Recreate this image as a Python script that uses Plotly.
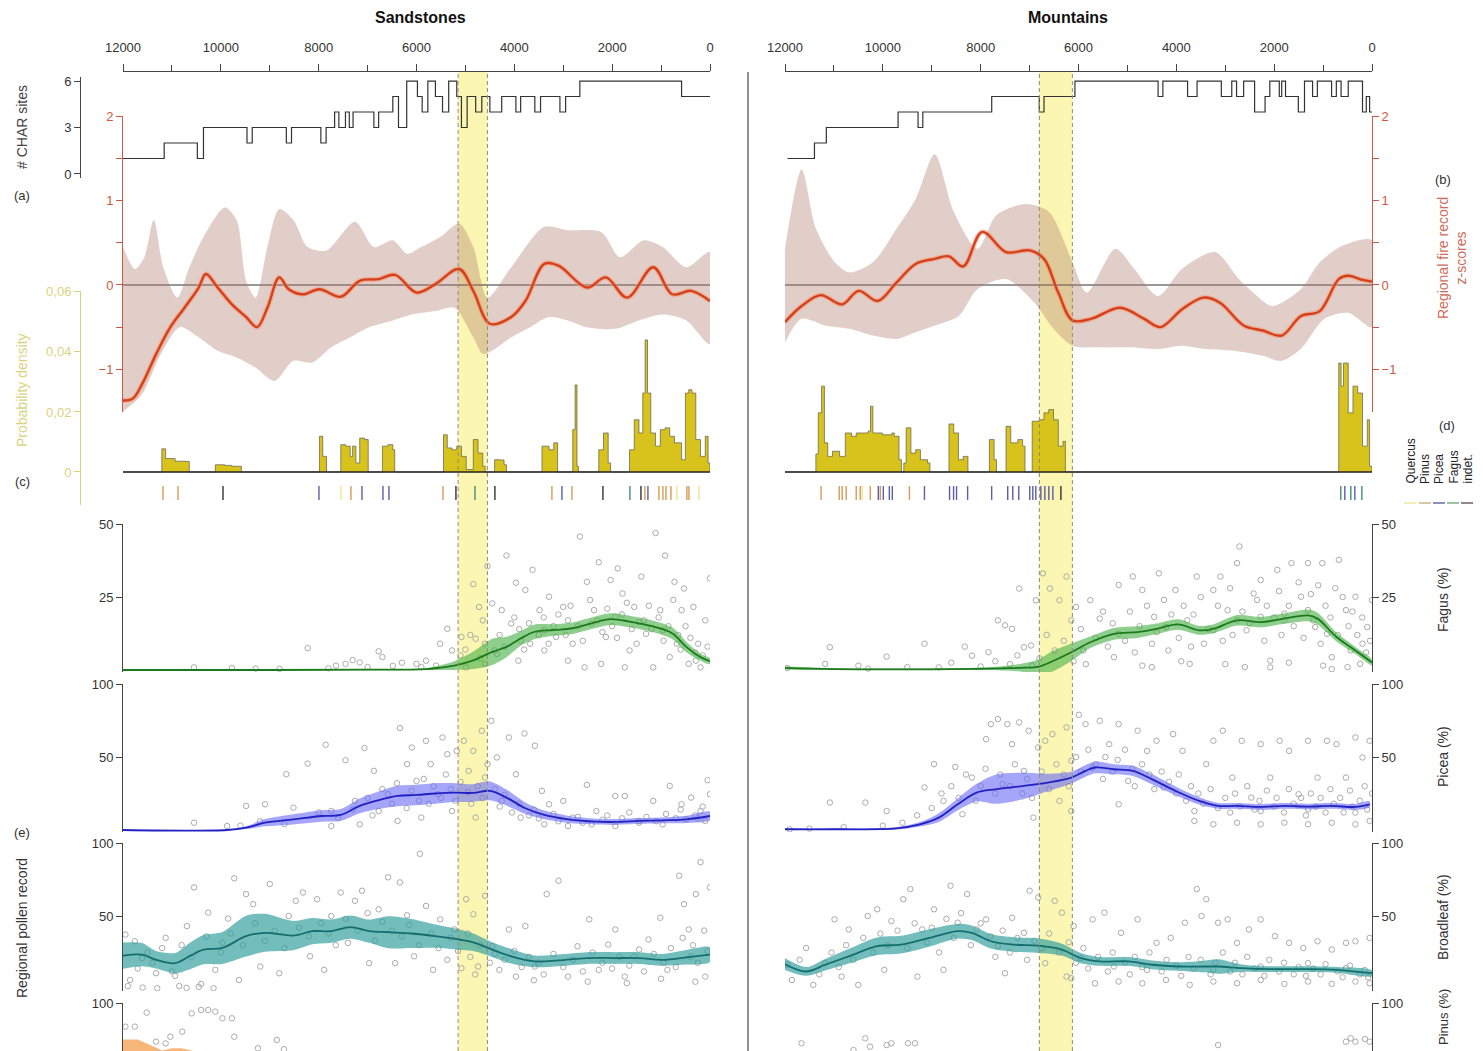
import plotly.graph_objects as go

W, H = 1483, 1051
FONT = "Liberation Sans, Arial, Helvetica, sans-serif"
RED = "#cc5a44"
OLIVE = "#d9d37e"


def px(x):
    return x / W


def py(y):
    return 1 - y / H


def ydom(top, bottom):
    return [1 - bottom / H, 1 - top / H]


def split(pairs):
    return [p[0] for p in pairs], [p[1] for p in pairs]


# ---------------- data (ages in cal yr BP) ----------------
time_ticks = [12000, 10000, 8000, 6000, 4000, 2000, 0]
time_minor = [11000, 9000, 7000, 5000, 3000, 1000]
event_sand = (5150, 4550)
event_mount = (6800, 6125)

# number of CHAR sites (step starts)
sand_sites_t = [12000, 11158, 10480, 10355, 9465, 9358, 8661, 8555, 7955, 7848, 7674, 7587, 7452, 7374,
                7297, 6871, 6774, 6484, 6368, 6200, 5981, 5884, 5768, 5613, 5468, 5342, 5177, 5081, 4965,
                4790, 4665, 4500, 4258, 3968, 3871, 3581, 3464, 3068, 2952, 2661, 581, 0]
sand_sites_n = [1, 2, 1, 3, 2, 3, 2, 3, 2, 3, 4, 3, 4, 3, 4, 3, 4, 5, 3, 6, 5, 4, 6, 5, 4, 6, 5, 3, 5, 4,
                5, 4, 5, 4, 5, 4, 5, 4, 5, 6, 5, 5]
mount_sites_t = [11950, 11398, 11155, 9688, 9280, 9183, 7774, 6802, 6705, 6073, 4373, 4275, 3770, 3576,
                 3080, 2867, 2769, 2624, 2400, 2186, 2089, 1895, 1846, 1768, 1506, 1380, 1215, 1117, 826,
                 729, 632, 486, 194, 117, 49, 0]
mount_sites_n = [1, 2, 3, 4, 3, 4, 5, 4, 5, 6, 5, 6, 5, 6, 5, 6, 5, 6, 4, 5, 6, 5, 6, 5, 4, 6, 5, 6, 5, 6,
                 5, 6, 4, 5, 4, 4]

# regional fire record (z-scores): mean and confidence band
sand_z_t = [12000, 11806, 11613, 11323, 11032, 10742, 10452, 10306, 10065, 9774, 9484, 9261, 9048, 8806,
            8613, 8323, 7984, 7548, 7161, 6774, 6436, 6000, 5613, 5129, 4839, 4500, 4064, 3774, 3387,
            3097, 2516, 2129, 1693, 1161, 774, 387, 0]
sand_z = [-1.37, -1.35, -1.18, -0.82, -0.50, -0.27, -0.03, 0.13, -0.03, -0.23, -0.38, -0.50, -0.27, 0.09,
          -0.05, -0.11, -0.05, -0.14, 0.05, 0.07, 0.12, -0.09, 0.01, 0.19, -0.07, -0.46, -0.38, -0.19, 0.25,
          0.23, -0.03, 0.09, -0.15, 0.21, -0.11, -0.07, -0.19]
sand_zhi_t = [12000, 11758, 11565, 11371, 11177, 10887, 10645, 10355, 9919, 9677, 9484, 9290, 9048, 8806,
              8516, 8226, 7839, 7258, 6871, 6484, 6193, 5903, 5516, 5129, 4839, 4548, 4064, 3387, 2903,
              2226, 1839, 1355, 968, 484, 0]
sand_zhi = [0.45, 0.19, 0.33, 0.77, 0.21, -0.15, 0.21, 0.57, 0.92, 0.77, 0.05, -0.15, 0.45, 0.90, 0.77,
            0.45, 0.41, 0.75, 0.45, 0.53, 0.37, 0.45, 0.57, 0.73, 0.45, -0.15, 0.21, 0.69, 0.65, 0.63,
            0.33, 0.53, 0.45, 0.21, 0.39]
sand_zlo_t = [12000, 11613, 11226, 10839, 10452, 10065, 9677, 9290, 8903, 8516, 8129, 7742, 7355, 6968,
              6484, 6097, 5613, 5226, 4839, 4645, 4452, 4064, 3677, 3290, 2903, 2516, 1935, 1452, 968,
              484, 0]
sand_zlo = [-1.50, -1.30, -0.82, -0.50, -0.62, -0.78, -0.86, -0.98, -1.14, -0.90, -0.92, -0.74, -0.62,
            -0.50, -0.42, -0.35, -0.31, -0.27, -0.62, -0.82, -0.78, -0.62, -0.50, -0.38, -0.42, -0.50,
            -0.52, -0.42, -0.35, -0.42, -0.70]

mount_z_t = [12000, 11660, 11272, 10835, 10495, 10106, 9718, 9329, 8940, 8649, 8357, 7968, 7482, 6996,
             6705, 6414, 6122, 5734, 5151, 4665, 4324, 3887, 3449, 3109, 2624, 2235, 1846, 1457, 1069,
             680, 486, 194, 0]
mount_z = [-0.44, -0.25, -0.12, -0.23, -0.07, -0.19, 0.03, 0.25, 0.31, 0.34, 0.22, 0.63, 0.39, 0.41, 0.31,
           -0.09, -0.42, -0.40, -0.27, -0.40, -0.50, -0.29, -0.15, -0.21, -0.48, -0.54, -0.60, -0.37, -0.31,
           0.07, 0.11, 0.06, 0.04]
mount_zhi_t = [12000, 11660, 11369, 10980, 10689, 10203, 9717, 9328, 8940, 8551, 8065, 7676, 7093, 6608,
               6122, 5830, 5247, 4859, 4373, 3887, 3207, 2721, 2429, 2041, 1458, 1069, 583, 0]
mount_zhi = [0.43, 1.37, 0.67, 0.27, 0.15, 0.27, 0.67, 1.02, 1.55, 0.87, 0.43, 0.83, 0.96, 0.87, 0.27,
             -0.09, 0.43, 0.19, -0.13, 0.19, 0.39, 0.07, -0.09, -0.25, -0.05, 0.27, 0.47, 0.53]
mount_zlo_t = [12000, 11660, 11175, 10689, 10203, 9717, 9328, 8940, 8454, 8065, 7482, 6899, 6510, 6122,
               5539, 4956, 4373, 3887, 3401, 2818, 2235, 1846, 1458, 972, 486, 0]
mount_zlo = [-0.68, -0.40, -0.48, -0.52, -0.60, -0.64, -0.56, -0.48, -0.37, -0.05, 0.07, -0.21, -0.52,
             -0.72, -0.74, -0.74, -0.76, -0.72, -0.76, -0.78, -0.84, -0.90, -0.76, -0.40, -0.33, -0.50]

# summed probability density of dated macro-charcoal
sand_pd = [(12000, 0), (11274, 0), (11206, 0.0077), (11129, 0.0045), (10935, 0.0036), (10722, 0.0035),
           (10645, 0), (10210, 0), (10113, 0.0024), (9919, 0.0022), (9774, 0.0019), (9581, 0),
           (8081, 0), (7984, 0.0119), (7916, 0.0052), (7839, 0), (7626, 0), (7548, 0.0091),
           (7452, 0.0086), (7355, 0.0052), (7306, 0.0086), (7239, 0.003), (7161, 0.0113),
           (7064, 0.0108), (6987, 0), (6774, 0), (6697, 0.0086), (6581, 0.0091), (6484, 0.0074),
           (6445, 0), (5516, 0), (5448, 0.0124), (5371, 0.008), (5274, 0.0074), (5177, 0.0086),
           (5081, 0.0052), (4984, 0.0008), (4839, 0.0108), (4742, 0.0063), (4645, 0.0019), (4597, 0),
           (4471, 0), (4403, 0.0041), (4306, 0.004), (4210, 0.0024), (4161, 0), (3503, 0),
           (3435, 0.0086), (3290, 0.0074), (3194, 0.0097), (3116, 0), (2855, 0), (2806, 0.0141),
           (2758, 0.029), (2719, 0.0019), (2690, 0), (2342, 0), (2274, 0.0074), (2177, 0.013),
           (2081, 0.003), (2032, 0), (1742, 0), (1645, 0.0074), (1548, 0.0174), (1452, 0.013),
           (1374, 0.0263), (1326, 0.044), (1277, 0.0263), (1210, 0.013), (1113, 0.0086), (1016, 0.0141),
           (919, 0.0147), (823, 0.0119), (726, 0.0097), (581, 0.0041), (503, 0.0263), (435, 0.0274),
           (368, 0.0263), (290, 0.0108), (194, 0.0052), (97, 0.0119), (39, 0.003), (0, 0)]
mount_pd = [(12000, 0), (11418, 0), (11369, 0.006), (11320, 0.0197), (11252, 0.0286), (11194, 0.0097),
            (11126, 0.0052), (11029, 0.0069), (10883, 0.0052), (10767, 0.013), (10640, 0.0119),
            (10543, 0.013), (10397, 0.013), (10300, 0.0136), (10252, 0.0219), (10203, 0.013),
            (10009, 0.0124), (9815, 0.013), (9766, 0.0119), (9669, 0.0041), (9620, 0), (9571, 0.003),
            (9523, 0.0147), (9426, 0.0063), (9328, 0.0074), (9231, 0.0041), (9086, 0.003), (9037, 0),
            (8746, 0), (8648, 0.016), (8551, 0.013), (8454, 0.0041), (8357, 0.0052), (8260, 0),
            (7919, 0), (7822, 0.0108), (7725, 0.0041), (7676, 0), (7531, 0), (7482, 0.0152),
            (7385, 0.0097), (7239, 0.0108), (7142, 0.0086), (7093, 0), (6996, 0), (6947, 0.0169),
            (6802, 0.0174), (6705, 0.0197), (6608, 0.0208), (6511, 0.0174), (6413, 0.0086),
            (6316, 0.0102), (6268, 0), (729, 0), (680, 0.0363), (632, 0.0286), (583, 0.0363),
            (486, 0.0197), (389, 0.0286), (292, 0.0263), (194, 0.0086), (97, 0.0174), (49, 0.0019),
            (0, 0)]

# dated charcoal taxa
sand_taxa = [(11182, "Pinus"), (10875, "Pinus"), (9956, "indet."), (7994, "Picea"), (7544, "Quercus"),
             (7340, "Pinus"), (7115, "Picea"), (6686, "Picea"), (6563, "Picea"), (5459, "Pinus"),
             (5194, "indet."), (4805, "Fagus"), (4397, "indet."), (3232, "Pinus"), (3027, "Picea"),
             (2823, "Pinus"), (2189, "indet."), (1637, "Fagus"), (1412, "indet."), (1330, "Pinus"),
             (1269, "Picea"), (1044, "Pinus"), (962, "Pinus"), (901, "Pinus"), (799, "Pinus"),
             (676, "Quercus"), (472, "Pinus"), (431, "Pinus"), (227, "Quercus")]
mount_taxa = [(11262, "Pinus"), (10892, "Pinus"), (10831, "Pinus"), (10749, "Pinus"), (10544, "Pinus"),
              (10462, "Pinus"), (10421, "Quercus"), (10257, "Pinus"), (10093, "Picea"), (10052, "Pinus"),
              (9990, "Picea"), (9867, "Picea"), (9806, "Picea"), (9457, "Pinus"), (9149, "Picea"),
              (8636, "Picea"), (8554, "Picea"), (8493, "Picea"), (8267, "Picea"), (7775, "Picea"),
              (7447, "Picea"), (7344, "Picea"), (7221, "Picea"), (6996, "Picea"), (6934, "Picea"),
              (6873, "Picea"), (6770, "Picea"), (6688, "Picea"), (6606, "Picea"), (6524, "Picea"),
              (6360, "indet."), (638, "Fagus"), (556, "Picea"), (433, "Fagus"), (351, "Picea"),
              (207, "Fagus")]
taxa_names = ["Quercus", "Pinus", "Picea", "Fagus", "indet."]
taxa_colors = {"Quercus": "#ece79a", "Pinus": "#d99a55", "Picea": "#5c5ca8", "Fagus": "#3f8f7a",
               "indet.": "#333333"}
legend_dash_colors = {"Quercus": "#efeaa8", "Pinus": "#cbbd8c", "Picea": "#7272a4", "Fagus": "#86b886",
                      "indet.": "#6e6e6e"}

# regional pollen: smoothed mean with half-width of the band
sand_fagus_curve = [(12000, 0, 0.2), (9000, 0, 0.2), (7000, 0.1, 0.2), (5806, 0.3, 0.3), (5516, 0.8, 0.8),
                    (5226, 1.5, 1.5), (4839, 3.3, 3), (4452, 6.2, 4.5), (4161, 7.9, 3.5), (3871, 10.8, 2.5),
                    (3581, 13.1, 2.5), (3194, 13.7, 2), (2806, 14.3, 2), (2419, 16, 2), (2032, 17.4, 2),
                    (1645, 16.6, 2), (1161, 14.9, 2), (774, 12.6, 2), (484, 7.9, 1.8), (194, 4.4, 1.2),
                    (0, 3, 1)]
sand_picea_curve = [(12000, 0, 0.2), (9871, 0, 0.3), (9484, 1.6, 1), (9097, 5, 2.5), (8516, 7.3, 3.5),
                    (7935, 9.6, 4), (7548, 10.3, 4), (7161, 16.5, 5), (6774, 20.4, 6), (6387, 23.3, 7),
                    (6000, 24, 7), (5613, 25, 7), (5226, 25.6, 6.5), (4839, 25.4, 6), (4500, 26.8, 6.5),
                    (4161, 22.2, 5.5), (3774, 14.9, 4), (3387, 10.3, 3), (2903, 7.3, 2.5), (2323, 5.7, 2),
                    (1935, 5.5, 2), (1452, 6.2, 2), (968, 6.6, 2), (484, 7.3, 2.5), (0, 9.6, 3)]
sand_broad_curve = [(12000, 22.8, 9), (11613, 23.5, 8), (11323, 20, 6), (10935, 17.7, 7), (10645, 22.4, 9),
                    (10355, 27, 10), (9968, 28.1, 11), (9484, 36.2, 14), (9097, 38.5, 13), (8516, 36.6, 10),
                    (8129, 39.6, 9), (7742, 39.6, 8), (7355, 42.4, 8), (6968, 39.6, 8), (6580, 38.9, 11),
                    (6097, 38, 10), (5613, 36.2, 8), (5129, 33.9, 7), (4839, 32, 6), (4452, 27, 5),
                    (4064, 22.4, 5), (3581, 18.9, 4), (3097, 19.6, 4), (2516, 21.2, 4), (1935, 21.2, 4),
                    (1452, 21.2, 4), (968, 20, 4), (484, 21.7, 5), (0, 23.5, 5)]
mount_fagus_curve = [(12000, 0.7, 0.6), (10987, 0.3, 0.3), (8083, 0.4, 0.4), (7502, 0.6, 0.8),
                     (7115, 0.8, 1.5), (6824, 1.1, 2.5), (6534, 3, 3.5), (6147, 6.1, 3), (5760, 9.5, 2),
                     (5276, 12.4, 2), (4792, 13, 2), (4404, 14.1, 1.8), (3969, 15.6, 1.8),
                     (3533, 13.6, 1.5), (3243, 14.1, 1.5), (2759, 17, 1.8), (2275, 16.4, 1.8),
                     (1791, 17.6, 1.8), (1307, 18.7, 2), (1113, 17.6, 2), (726, 11.3, 1.5),
                     (339, 6.7, 1.2), (0, 2.6, 1)]
mount_picea_curve = [(12000, 0.5, 0.5), (10987, 0.5, 0.5), (9728, 1.1, 0.8), (9244, 3.9, 1.5),
                     (8857, 8.5, 3), (8470, 17.6, 4), (8083, 25.6, 6), (7696, 27.9, 10), (7115, 30.2, 9),
                     (6631, 32.5, 6), (6147, 35.9, 4), (5856, 40.5, 4), (5663, 42.8, 4), (5276, 41.6, 3.5),
                     (4888, 40.5, 3.5), (4501, 34.8, 3.5), (4017, 26.8, 3), (3533, 19.9, 2.5),
                     (3146, 16.5, 2), (2759, 16.5, 2), (2275, 15.8, 2), (1791, 16.5, 2), (1307, 16, 2),
                     (823, 16.5, 2), (339, 15.8, 2), (48, 17.6, 2)]
mount_broad_curve = [(12000, 17, 4), (11568, 12, 3), (11180, 16.6, 4), (10697, 22.4, 5), (10116, 29.3, 6),
                     (9632, 30.4, 6), (9051, 35, 6), (8470, 39.6, 5), (8180, 38.5, 5), (7793, 32.7, 5),
                     (7309, 30.4, 5), (6825, 29.7, 5), (6341, 27, 4), (5953, 21.2, 3.5), (5566, 18.9, 3),
                     (4985, 18.9, 3), (4501, 16.6, 3), (3921, 15.4, 3), (3437, 15.4, 4), (3146, 15.4, 5),
                     (2662, 14.3, 2.5), (2081, 13.6, 2), (1307, 13.6, 2), (726, 13.1, 2), (0, 10.8, 2)]
sand_pinus_band = [(12000, 60, 75), (11700, 58, 75), (11400, 52, 70.5), (11200, 50, 67.5), (11000, 48, 69),
                   (10800, 48, 69), (10600, 46, 67.5), (10400, 44, 65)]

# individual pollen samples (age, %)
sand_fagus_pts = [
    (10548, 0.9), (9774, 0.7), (9290, 0.5), (8225, 7.5), (7645, 1.5), (7451, 2.1), (7306, 3.4), (7161, 2.6),
    (6774, 6.4), (6697, 4.4), (6484, 1.4), (6000, 2.1), (5806, 3.2), (5516, 9.0), (5371, 14.1), (5274, 6.7),
    (5081, 11.3), (4984, 0.9), (4839, 29.4), (4790, 10.7), (4722, 21.6), (4645, 17), (4597, 2.1),
    (4548, 35.6), (4452, 22.8), (4403, 6.7), (4258, 20.5), (4161, 39.2), (4064, 15.9), (3968, 29.9),
    (3919, 3.2), (3774, 27.4), (3677, 9.0), (3629, 34.3), (3484, 20.5), (3387, 6.7), (3290, 25.1),
    (3145, 11.3), (3000, 21.6), (2903, 3.2), (2806, 9.0), (2661, 45.7), (2516, 30.2), (2371, 20.5),
    (2274, 36.9), (2226, 2.1), (2129, 11.3), (2032, 30.8), (1887, 34.8), (1790, 26.2), (1645, 6.7),
    (1548, 21.6), (1403, 32), (1306, 12.4), (1113, 46.9), (1016, 20.5), (919, 39.2), (823, 4.4), (726, 30.2),
    (581, 20.5), (532, 27.9), (435, 2.1), (339, 21.6), (242, 9), (97, 17), (0, 31.4), (3387, 13.6),
    (2903, 17), (2419, 15.9), (1935, 18.2), (1452, 16.4), (968, 13.6), (677, 9), (290, 3.2), (194, 0.9),
    (3871, 10.1), (4355, 5.5), (2564, 0.9), (1742, 0.9), (1161, 0.9), (4300, 12), (4200, 8), (4000, 18),
    (3900, 14), (3800, 7), (3700, 16), (3500, 12), (3400, 18), (3300, 9), (3200, 15), (3100, 19),
    (2950, 12), (2850, 22), (2700, 15), (2600, 10), (2450, 24), (2300, 17), (2200, 13), (2100, 21),
    (2000, 15), (1900, 11), (1800, 19), (1700, 23), (1600, 14), (1500, 9), (1350, 17), (1250, 22),
    (1200, 14), (1050, 18), (950, 10), (850, 15), (750, 24), (650, 12), (600, 7), (500, 15), (400, 11),
    (300, 6), (150, 5), (50, 8), (5100, 5), (5000, 7), (4900, 12), (4700, 4), (4600, 9), (5600, 1.5),
    (5900, 1), (6300, 2.5), (7000, 1), (7800, 0.6), (8800, 0.4)]
sand_picea_pts = [
    (10548, 5.0), (9871, 2.7), (9484, 16.5), (9097, 17.6), (8661, 38.2), (8516, 15.3), (8226, 45.5),
    (7858, 58.4), (7742, 13), (7451, 47.8), (7258, 19.9), (7064, 56.1), (6871, 40.5), (6774, 13),
    (6581, 24.5), (6339, 69.8), (6193, 45.1), (6097, 56.5), (6000, 33.6), (5903, 8.5), (5806, 61.1),
    (5710, 45.1), (5565, 24.5), (5468, 63.4), (5371, 51.9), (5274, 13), (5177, 54.2), (5032, 61.1),
    (4935, 40.5), (4839, 54.2), (4790, 8.5), (4664, 68), (4548, 45.1), (4471, 74.8), (4355, 49.7),
    (4258, 19.9), (4113, 63.4), (3968, 38.2), (3793, 66.1), (3581, 57.7), (3435, 26.8), (3290, 17.6),
    (3000, 19.9), (2806, 8.5), (2516, 30.9), (2323, 13), (1935, 23.3), (1742, 23.3), (1452, 5),
    (1161, 19.9), (823, 30.2), (581, 17.6), (387, 22.2), (194, 13), (48, 34.1), (0, 24.5), (3871, 8.5),
    (3387, 3.9), (2903, 2.7), (2419, 3.9), (1935, 2.7), (1452, 6.2), (968, 3.9), (484, 7.3), (97, 6.2),
    (6387, 6.2), (7161, 3.9), (7742, 2.7), (8000, 12), (7600, 8), (7300, 14), (7000, 22), (6900, 10),
    (6700, 28), (6500, 18), (6400, 32), (6200, 15), (6100, 27), (5950, 20), (5850, 35), (5750, 18),
    (5650, 30), (5500, 22), (5400, 38), (5300, 28), (5200, 20), (5100, 33), (4950, 26), (4880, 18),
    (4750, 30), (4650, 22), (4600, 36), (4400, 28), (4300, 16), (4200, 24), (4050, 12), (3900, 18),
    (3700, 10), (3600, 14), (3500, 8), (3200, 11), (3100, 6), (2700, 9), (2600, 5), (2200, 7), (2100, 10),
    (1800, 8), (1650, 12), (1300, 9), (1100, 6), (900, 11), (700, 8), (600, 14), (300, 10), (150, 16),
    (250, 8), (8700, 4), (9200, 6), (9600, 3)]
sand_broad_pts = [
    (11951, 37.3), (11855, 6.2), (11758, 32.7), (11613, 21.2), (11323, 10.8), (11129, 35), (10935, 9),
    (10693, 43.1), (10548, 69.6), (10403, 3.5), (10258, 52.3), (10113, 13.1), (9968, 31.6), (9851, 48.2),
    (9726, 75.8), (9629, 6.2), (9484, 65), (9339, 58.1), (9193, 15.4), (9000, 71.9), (8806, 10.8),
    (8613, 50), (8468, 60.4), (8323, 66.1), (8177, 22.4), (8032, 61.5), (7887, 13.1), (7742, 50),
    (7548, 66.1), (7403, 31.6), (7258, 60.4), (7113, 67.3), (6968, 17.7), (6774, 54.6), (6580, 76.5),
    (6436, 17.7), (6339, 73), (6193, 50.5), (6048, 22.4), (5932, 92.6), (5806, 56.9), (5661, 13.1),
    (5516, 47.7), (5371, 20), (5226, 40.8), (5081, 14.3), (4984, 61.5), (4839, 51.2), (4742, 15.4),
    (4597, 63.8), (4452, 29.3), (4306, 13.1), (4113, 40.8), (3968, 8.5), (3774, 43.1), (3581, 15.4),
    (3339, 65), (3097, 74.2), (2903, 8.5), (2710, 29.3), (2468, 47.7), (2274, 13.1), (2081, 30.4),
    (1935, 40.8), (1742, 8.5), (1548, 22.4), (1258, 33.9), (1016, 48.8), (871, 13.1), (629, 77.6),
    (532, 58.1), (435, 40.8), (290, 65), (194, 86.9), (97, 8.5), (0, 69.6), (11900, 2), (11700, 14),
    (11500, 25), (11400, 18), (11200, 28), (11000, 12), (10800, 30), (10600, 22), (10300, 36), (10000, 25),
    (9800, 38), (9550, 30), (9300, 45), (9100, 33), (8900, 40), (8700, 28), (8400, 42), (8200, 36),
    (7950, 45), (7800, 38), (7650, 30), (7450, 48), (7200, 40), (7000, 52), (6850, 33), (6700, 46),
    (6500, 40), (6300, 36), (6150, 44), (5950, 30), (5700, 38), (5550, 28), (5300, 35), (5150, 26),
    (4950, 38), (4900, 22), (4700, 30), (4500, 18), (4400, 24), (4200, 20), (4000, 26), (3850, 15),
    (3700, 22), (3500, 18), (3400, 10), (3200, 24), (3000, 15), (2800, 20), (2600, 12), (2400, 25),
    (2200, 18), (2000, 14), (1850, 22), (1650, 16), (1450, 27), (1350, 12), (1150, 24), (950, 18),
    (800, 28), (700, 15), (560, 35), (400, 22), (350, 30), (250, 18), (120, 40), (50, 26), (4800, 10),
    (3600, 6), (2500, 5), (1700, 4), (1000, 7), (300, 5), (11600, 1), (11300, 0.5), (10850, 2),
    (10700, 0.8), (10450, 1.5), (10150, 0.5)]
mount_fagus_pts = [
    (11954, 0.7), (11180, 2.1), (11083, 7.8), (9922, 4.6), (9148, 9), (8857, 0.9), (8325, 8), (8180, 4.9),
    (7841, 6.1), (7648, 17), (7502, 15.3), (7357, 14.1), (7212, 27.9), (7115, 7.8), (6970, 8.4),
    (6873, 23.9), (6728, 33.1), (6583, 27.9), (6486, 6.7), (6389, 23.9), (6244, 32), (6147, 17),
    (6050, 21.6), (5905, 6.7), (5759, 23.9), (5566, 17.6), (5276, 4.4), (5179, 29.1), (4889, 32),
    (4695, 27.4), (4453, 18.2), (4356, 33.1), (4163, 6.7), (4018, 27.4), (3776, 17), (3582, 32),
    (3436, 9), (3243, 27.4), (3098, 32), (2952, 20.5), (2759, 36.6), (2710, 42.3), (2565, 13.6),
    (2420, 26.2), (2275, 30.8), (2081, 3.2), (1936, 34.3), (1791, 19.3), (1646, 36.6), (1452, 25.1),
    (1307, 36.6), (1162, 14.7), (1016, 36.6), (823, 4.4), (678, 37.7), (532, 20.5), (339, 25.1), (194, 9),
    (97, 14.7), (0, 23.9), (5179, 12.4), (4211, 14.7), (3243, 13.6), (2759, 17), (2275, 18.2), (1791, 17),
    (1307, 20.5), (920, 12.4), (436, 6.7), (242, 2.1), (3727, 2.1), (4695, 1.5), (2081, 0.9), (823, 0.3),
    (10500, 1.5), (10300, 0.5), (9500, 1), (8600, 2.5), (8000, 1.2), (7700, 3), (7400, 2), (7250, 5),
    (6950, 1.5), (6800, 4), (6650, 12), (6300, 10), (6100, 3), (5950, 14), (5850, 2), (5650, 11),
    (5500, 20), (5400, 8), (5300, 16), (5050, 10), (4950, 20), (4850, 6), (4750, 15), (4600, 22), (4500, 9),
    (4400, 13), (4250, 24), (4100, 19), (3950, 11), (3850, 22), (3700, 8), (3650, 19), (3500, 25),
    (3350, 14), (3150, 22), (3050, 10), (2900, 28), (2850, 12), (2650, 20), (2500, 16), (2350, 24),
    (2200, 10), (2150, 22), (2000, 18), (1900, 27), (1850, 12), (1700, 22), (1600, 15), (1500, 30),
    (1400, 11), (1250, 26), (1200, 17), (1100, 29), (1050, 9), (950, 22), (850, 18), (750, 28), (700, 12),
    (600, 25), (480, 15), (400, 20), (300, 12), (200, 18), (120, 6), (40, 10), (3000, 2), (2600, 1),
    (1700, 2.5), (1000, 1.5), (500, 1), (3900, 3), (4500, 1)]
mount_picea_pts = [
    (11906, 0.5), (11083, 18.8), (10357, 18.8), (9922, 13), (9148, 29.1), (8954, 45.1), (8760, 19.9),
    (8518, 43.2), (8373, 10.8), (8180, 35.9), (7890, 62.2), (7793, 72.5), (7648, 76), (7551, 31.4),
    (7454, 72.5), (7357, 58.8), (7212, 73.7), (7115, 40.5), (7018, 68), (6921, 8.5), (6825, 56.5),
    (6680, 61.1), (6534, 65.7), (6389, 19.9), (6244, 70.3), (6147, 47.4), (5992, 78.9), (5856, 72.5),
    (5711, 42.8), (5566, 74.8), (5372, 58.8), (5179, 72.5), (4985, 33.6), (4792, 68), (4598, 54.2),
    (4405, 61.1), (4260, 29.1), (4066, 65.7), (3873, 54.2), (3631, 13), (3389, 45.1), (3243, 61.1),
    (3050, 68), (2856, 35.9), (2662, 61.1), (2468, 22.2), (2275, 58.8), (2081, 35.9), (1888, 61.1),
    (1694, 54.2), (1501, 24.5), (1307, 61.1), (1113, 35.9), (920, 61.1), (726, 58.8), (532, 35.9),
    (339, 63.4), (194, 49.7), (48, 61.1), (3631, 6.2), (3243, 3.9), (2759, 5), (2275, 3.9), (1791, 5),
    (1307, 3.9), (823, 5), (339, 3.9), (48, 6.2), (2275, 13), (1307, 14.2), (339, 11.9), (5179, 17.6),
    (6147, 13), (11500, 1), (10800, 2), (10000, 3), (9600, 5), (9300, 10), (9000, 15), (8800, 25),
    (8600, 30), (8450, 22), (8300, 38), (8100, 20), (8000, 30), (7900, 42), (7700, 25), (7600, 38),
    (7400, 30), (7300, 45), (7150, 25), (7050, 35), (6950, 22), (6750, 40), (6600, 28), (6450, 45),
    (6300, 38), (6200, 30), (6050, 50), (5950, 40), (5800, 55), (5650, 45), (5500, 35), (5450, 50),
    (5300, 40), (5200, 48), (5050, 55), (4900, 42), (4850, 30), (4700, 45), (4550, 38), (4450, 28),
    (4300, 40), (4150, 33), (4000, 25), (3950, 38), (3800, 20), (3700, 30), (3550, 25), (3450, 18),
    (3300, 28), (3150, 15), (3000, 22), (2900, 12), (2800, 25), (2700, 16), (2550, 30), (2400, 14),
    (2300, 20), (2150, 27), (2000, 16), (1950, 22), (1800, 12), (1700, 28), (1600, 18), (1450, 22),
    (1350, 10), (1250, 25), (1150, 16), (1050, 22), (950, 12), (850, 28), (780, 18), (650, 22), (580, 12),
    (450, 27), (400, 16), (250, 20), (150, 30), (100, 14), (0, 25)]
mount_broad_pts = [
    (11954, 16.6), (11858, 6.2), (11568, 28.1), (11422, 2.8), (11180, 17.7), (10987, 47.7), (10842, 8.5),
    (10697, 40.8), (10503, 2.8), (10310, 50), (10116, 54.6), (9970, 13.1), (9825, 46.5), (9583, 61.5),
    (9438, 68.4), (9293, 8.5), (9196, 40.8), (8954, 54.6), (8760, 13.1), (8615, 70.7), (8470, 45.4),
    (8277, 65), (8083, 40.8), (7890, 47.7), (7648, 29.3), (7502, 10.8), (7357, 48.8), (7115, 38.5),
    (6999, 67.3), (6825, 62.7), (6680, 17.7), (6486, 60.4), (6341, 52.3), (6244, 8.5), (6099, 43.1),
    (5953, 21.2), (5711, 47.7), (5469, 52.3), (5276, 15.4), (5131, 38.5), (4792, 47.7), (4598, 13.1),
    (4405, 31.6), (4114, 35), (3824, 45.4), (3582, 68.4), (3485, 50), (3389, 61.5), (3146, 45.4),
    (2952, 47.7), (2759, 31.6), (2517, 40.8), (2275, 47.7), (1984, 36.2), (1694, 31.6), (1404, 28.1),
    (1113, 32.7), (823, 27), (532, 31.6), (339, 32.7), (48, 35), (6147, 7.4), (5663, 3.9), (5179, 5.1),
    (4695, 3.9), (4211, 6.2), (3727, 2.8), (3243, 5.1), (2759, 3.9), (2275, 6.2), (1791, 3.5), (1307, 5.1),
    (823, 3.5), (339, 5.1), (48, 3.9), (3243, 13.1), (2275, 15.4), (1307, 17.7), (532, 14.3), (11700, 20),
    (11300, 10), (11050, 25), (10900, 15), (10750, 30), (10600, 20), (10400, 35), (10200, 25), (10050, 38),
    (9900, 30), (9700, 40), (9500, 28), (9350, 45), (9100, 32), (9000, 42), (8850, 25), (8700, 48),
    (8550, 35), (8400, 52), (8200, 30), (8000, 45), (7800, 36), (7700, 22), (7550, 40), (7400, 25),
    (7250, 35), (7050, 20), (6900, 33), (6750, 28), (6600, 38), (6400, 25), (6200, 32), (6050, 18),
    (5900, 28), (5800, 14), (5600, 22), (5400, 12), (5300, 25), (5050, 18), (4950, 10), (4850, 22),
    (4700, 15), (4550, 25), (4300, 12), (4200, 20), (4000, 16), (3900, 9), (3750, 22), (3650, 14),
    (3500, 20), (3300, 10), (3200, 18), (3050, 25), (2900, 12), (2800, 18), (2650, 10), (2550, 22),
    (2400, 14), (2200, 9), (2100, 20), (1900, 12), (1800, 18), (1600, 10), (1500, 15), (1350, 9),
    (1200, 14), (1050, 10), (950, 17), (700, 12), (600, 8), (450, 16), (250, 10), (150, 13), (80, 8)]
sand_pinus_pts = [(11951, 83.8), (11758, 83.8), (11516, 93.4), (11323, 73.5), (11129, 72.3), (11032, 76.9),
                  (10790, 80.4), (10597, 92.9), (10403, 95.2), (10258, 95.2), (10113, 94.1), (9968, 89.5),
                  (9774, 89.5), (9726, 76.9), (9242, 69), (8855, 74.7), (8710, 68.3)]
mount_pinus_pts = [(11664, 72.4), (10600, 67.8), (10358, 75.8), (10261, 70.1), (9922, 71.2), (9825, 72.4),
                   (9486, 72.4), (9341, 72.4), (3146, 71.2), (532, 73.5), (436, 75.8), (339, 73.5),
                   (145, 75.3), (48, 73.5)]

# ---------------- figure ----------------
fig = go.Figure()


def band(xa, ya, t_hi, hi, t_lo, lo, color, shape="spline"):
    fig.add_trace(go.Scatter(x=list(t_hi) + list(t_lo)[::-1], y=list(hi) + list(lo)[::-1],
                             fill="toself", fillcolor=color, mode="lines",
                             line=dict(width=0, shape=shape, smoothing=0.8),
                             xaxis=xa, yaxis=ya, hoverinfo="skip"))


def curve_band(xa, ya, curve, color):
    t = [c[0] for c in curve]
    band(xa, ya, t, [c[1] + c[2] for c in curve], t, [c[1] - c[2] for c in curve], color)


def line(xa, ya, t, v, color, width, shape="linear"):
    fig.add_trace(go.Scatter(x=t, y=v, mode="lines", line=dict(color=color, width=width, shape=shape),
                             xaxis=xa, yaxis=ya, hoverinfo="skip"))


def samples(xa, ya, pts):
    t, v = split(pts)
    fig.add_trace(go.Scatter(x=t, y=v, mode="markers", xaxis=xa, yaxis=ya, hoverinfo="skip",
                             marker=dict(symbol="circle-open", size=5.5, color="#ababab",
                                         line=dict(width=1, color="#ababab"))))


# CHAR site counts
line("x", "y", sand_sites_t, sand_sites_n, "#333333", 1.2, "hv")
line("x2", "y2", mount_sites_t, mount_sites_n, "#333333", 1.2, "hv")

# fire z-scores
for xa, ya, th, hi, tl, lo, tz, z in (("x", "y3", sand_zhi_t, sand_zhi, sand_zlo_t, sand_zlo, sand_z_t, sand_z),
                                      ("x2", "y4", mount_zhi_t, mount_zhi, mount_zlo_t, mount_zlo, mount_z_t, mount_z)):
    band(xa, ya, th, hi, tl, lo, "rgba(176,118,106,0.36)")
    line(xa, ya, tz, z, "rgba(245,150,110,0.55)", 5, "spline")
    line(xa, ya, tz, z, "#d5401c", 2.4, "spline")

# probability density of dated charcoal
for xa, ya, pd in (("x", "y5", sand_pd), ("x2", "y6", mount_pd)):
    t, d = split(pd)
    fig.add_trace(go.Scatter(x=t, y=d, mode="lines", fill="tozeroy", fillcolor="#d8c21c",
                             line=dict(color="#5c5c52", width=0.7, shape="hv"),
                             xaxis=xa, yaxis=ya, hoverinfo="skip"))

# taxa of dated charcoal pieces, one short bar per date
for xa, ya, taxa in (("x", "y5", sand_taxa), ("x2", "y6", mount_taxa)):
    for name in taxa_names:
        xs, ys = [], []
        for t, n in taxa:
            if n == name:
                xs += [t, t, None]
                ys += [-0.0047, -0.0093, None]
        if xs:
            fig.add_trace(go.Scatter(x=xs, y=ys, mode="lines", line=dict(color=taxa_colors[name], width=1.4),
                                     xaxis=xa, yaxis=ya, hoverinfo="skip"))

# pollen panels
pollen = [
    ("x", "y7", sand_fagus_pts, sand_fagus_curve, "rgba(72,178,72,0.62)", "#1c7a1c"),
    ("x2", "y8", mount_fagus_pts, mount_fagus_curve, "rgba(72,178,72,0.62)", "#1c7a1c"),
    ("x", "y9", sand_picea_pts, sand_picea_curve, "rgba(105,105,245,0.6)", "#2222c4"),
    ("x2", "y10", mount_picea_pts, mount_picea_curve, "rgba(105,105,245,0.6)", "#2222c4"),
    ("x", "y11", sand_broad_pts, sand_broad_curve, "rgba(48,158,158,0.68)", "#136f6e"),
    ("x2", "y12", mount_broad_pts, mount_broad_curve, "rgba(48,158,158,0.68)", "#136f6e"),
]
for xa, ya, pts, curve, fc, lc in pollen:
    samples(xa, ya, pts)
    curve_band(xa, ya, curve, fc)
    line(xa, ya, [c[0] for c in curve], [c[1] for c in curve], lc, 1.8, "spline")

samples("x", "y13", sand_pinus_pts)
band("x", "y13", [b[0] for b in sand_pinus_band], [b[2] for b in sand_pinus_band],
     [b[0] for b in sand_pinus_band], [b[1] for b in sand_pinus_band], "rgba(246,170,100,0.85)", "linear")
samples("x2", "y14", mount_pinus_pts)

# ---------------- axes ----------------
tick_font = dict(family=FONT, size=13, color="#333333")
base = dict(showgrid=False, zeroline=False, showline=True, linecolor="#444444", linewidth=1,
            ticks="outside", ticklen=6, tickcolor="#444444", tickwidth=1, tickfont=tick_font)

layout = dict(width=W, height=H, margin=dict(l=0, r=0, t=0, b=0, autoexpand=False),
              paper_bgcolor="white", plot_bgcolor="rgba(0,0,0,0)", showlegend=False,
              font=dict(family=FONT, color="#333333"))

for name, (x0, x1) in (("xaxis", (123, 710)), ("xaxis2", (785, 1372))):
    layout[name] = dict(base, domain=[px(x0), px(x1)], range=[12000, 0], side="top", anchor="free",
                        position=py(71), tickvals=time_ticks, ticktext=[str(v) for v in time_ticks],
                        ticklen=7, ticklabelstandoff=7,
                        minor=dict(tickvals=time_minor, ticks="outside", ticklen=6, tickcolor="#444444"))

layout["yaxis"] = dict(base, domain=ydom(77, 178), range=[-0.26, 6.26], anchor="free", position=px(80),
                       side="left", tickvals=[0, 3, 6])
layout["yaxis2"] = dict(domain=ydom(77, 178), range=[-0.26, 6.26], anchor="x2", visible=False)

red_axis = dict(base, domain=ydom(116, 412), range=[-1.507, 2.005], tickvals=[-1, 0, 1, 2],
                ticktext=["\u22121", "0", "1", "2"], linecolor=RED, tickcolor=RED,
                tickfont=dict(family=FONT, size=13, color=RED),
                minor=dict(tickvals=[-0.5, 0.5, 1.5], ticks="outside", ticklen=6, tickcolor=RED))
layout["yaxis3"] = dict(red_axis, anchor="x", side="left")
layout["yaxis4"] = dict(red_axis, anchor="x2", side="right")

layout["yaxis5"] = dict(base, domain=ydom(291, 505), range=[-0.011, 0.0603], anchor="free", position=px(80),
                        side="left", tickvals=[0, 0.02, 0.04, 0.06], ticktext=["0", "0,02", "0,04", "0,06"],
                        linecolor=OLIVE, tickcolor=OLIVE, tickfont=dict(family=FONT, size=13, color=OLIVE))
layout["yaxis6"] = dict(domain=ydom(291, 505), range=[-0.011, 0.0603], anchor="x2", visible=False)

panels = [(7, 524, 672, [-0.685, 50], [25, 50]),
          (9, 684, 832, [-1.37, 100], [50, 100]),
          (11, 843, 991, [-1.37, 100], [50, 100]),
          (13, 1003, 1051, [67.12, 100], [100])]
for idx, top, bot, rng, tv in panels:
    layout["yaxis%d" % idx] = dict(base, domain=ydom(top, bot), range=rng, anchor="x", side="left", tickvals=tv)
    layout["yaxis%d" % (idx + 1)] = dict(base, domain=ydom(top, bot), range=rng, anchor="x2", side="right",
                                         tickvals=tv)

# ---------------- shapes ----------------
shapes = []
for xr, (a, b) in (("x", event_sand), ("x2", event_mount)):
    shapes.append(dict(type="rect", xref=xr, yref="paper", x0=a, x1=b, y0=0, y1=py(72),
                       fillcolor="#fbf7b2", line=dict(width=0), layer="below"))
    for e in (a, b):
        shapes.append(dict(type="line", xref=xr, yref="paper", x0=e, x1=e, y0=0, y1=py(72),
                           line=dict(color="#8e8e72", width=1, dash="4px,3px")))
for xr, yz, yd in (("x", "y3", "y5"), ("x2", "y4", "y6")):
    shapes.append(dict(type="line", xref=xr, yref=yz, x0=12000, x1=0, y0=0, y1=0,
                       line=dict(color="#333333", width=1.1), layer="below"))
    shapes.append(dict(type="line", xref=xr, yref=yd, x0=12000, x1=0, y0=0, y1=0,
                       line=dict(color="#222222", width=1.3)))
shapes.append(dict(type="line", xref="paper", yref="paper", x0=px(748), x1=px(748), y0=0, y1=py(72),
                   line=dict(color="#222222", width=1)))
legend_x = [1410, 1425, 1439, 1453, 1467]
for name, lx in zip(taxa_names, legend_x):
    shapes.append(dict(type="line", xref="paper", yref="paper", x0=px(lx - 6), x1=px(lx + 6),
                       y0=py(503), y1=py(503), line=dict(color=legend_dash_colors[name], width=1.6)))
layout["shapes"] = shapes

# ---------------- text ----------------
anns = []


def ann(text, x, y, size=14, color="#333333", angle=0, xanchor="center", yanchor="middle"):
    anns.append(dict(text=text, x=px(x), y=py(y), xref="paper", yref="paper", showarrow=False,
                     textangle=angle, xanchor=xanchor, yanchor=yanchor,
                     font=dict(family=FONT, size=size, color=color)))


ann("<b>Sandstones</b>", 420, 18, 16, "#111111")
ann("<b>Mountains</b>", 1068, 18, 16, "#111111")
ann("# CHAR sites", 22, 127, 14, "#444444", -90)
ann("(a)", 22, 195, 13)
ann("(b)", 1443, 180, 13)
ann("(c)", 22, 481, 13)
ann("(d)", 1447, 425, 13)
ann("(e)", 22, 832, 13)
ann("Probability density", 22, 390, 14, OLIVE, -90)
ann("Regional fire record<br>z-scores", 1452, 258, 14, "#d06a56", -90)
ann("Regional pollen record", 22, 928, 14, "#333333", -90)
ann("Fagus (%)", 1443, 600, 14, "#333333", -90)
ann("Picea (%)", 1443, 757, 14, "#333333", -90)
ann("Broadleaf (%)", 1443, 917, 14, "#333333", -90)
ann("Pinus (%)", 1443, 1017, 13, "#333333", -90)
for name, lx in zip(taxa_names, legend_x):
    ann(name, lx, 486, 12, "#222222", -90, "center", "bottom")
layout["annotations"] = anns

fig.update_layout(**layout)
fig.write_html("out.html")
